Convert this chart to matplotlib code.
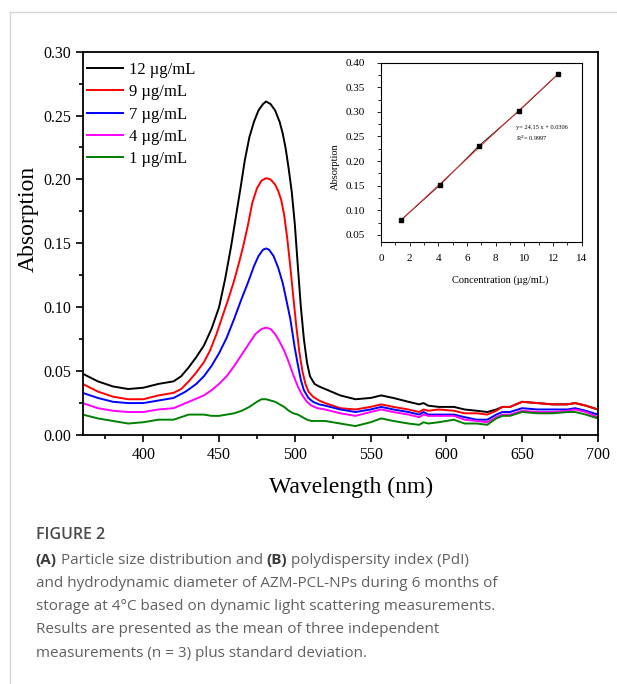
import numpy as np
import matplotlib

matplotlib.use("Agg")
import matplotlib.pyplot as plt
from matplotlib.lines import Line2D
from matplotlib.ticker import MultipleLocator

# flat part of the spectra beyond the absorption band (shared grid)
WL_TAIL = [520, 530, 540, 550, 557, 565, 575, 582, 585, 588, 595, 605, 612,
           620, 627, 633, 637, 642, 650, 660, 670, 680, 685, 692, 700]

WL_12 = [360, 370, 380, 390, 400, 410, 420, 425, 430, 435, 440, 445, 450, 454,
         458, 461, 464, 467, 470, 473, 476, 479, 481, 484, 487, 490, 492, 494,
         496, 498, 500, 502, 504, 506, 508, 510, 513, 516] + WL_TAIL
ABS_12 = [.048, .042, .038, .036, .037, .040, .042, .046, .053, .061, .070, .083,
          .100, .122, .148, .170, .192, .215, .233, .245, .254, .259, .261, .259,
          .254, .245, .236, .224, .208, .190, .165, .132, .100, .075, .057, .046,
          .040, .038,
          .036, .031, .028, .029, .031, .029, .026, .024, .025, .023, .022, .022,
          .020, .019, .018, .020, .022, .022, .026, .025, .024, .024, .025, .023,
          .020]

WL_9 = [360, 370, 380, 390, 400, 410, 420, 425, 430, 435, 440, 444, 448, 452,
        456, 460, 463, 466, 469, 472, 475, 478, 481, 484, 487, 489, 491, 493,
        495, 497, 499, 501, 503, 505, 507, 509, 512, 516] + WL_TAIL
ABS_9 = [.040, .034, .030, .028, .028, .031, .033, .036, .042, .049, .057, .066,
         .078, .092, .106, .121, .134, .148, .164, .182, .193, .199, .201, .200,
         .196, .191, .184, .172, .154, .132, .108, .085, .065, .050, .040, .034,
         .030, .027,
         .025, .021, .020, .022, .024, .022, .020, .018, .020, .019, .020, .019,
         .017, .017, .016, .019, .022, .022, .026, .025, .024, .024, .025, .023,
         .020]

WL_7 = [360, 370, 380, 390, 400, 410, 420, 428, 435, 440, 445, 450, 455, 460,
        465, 469, 473, 476, 479, 481, 483, 486, 489, 492, 494, 497, 500, 502,
        504, 506, 509, 512, 516] + WL_TAIL
ABS_7 = [.033, .029, .026, .025, .025, .027, .029, .034, .040, .046, .054, .064,
         .076, .091, .107, .119, .132, .140, .145, .146, .145, .140, .131, .119,
         .108, .091, .068, .055, .043, .035, .029, .026, .024,
         .023, .020, .018, .020, .022, .020, .018, .016, .018, .016, .016, .016,
         .014, .012, .012, .016, .018, .018, .021, .020, .020, .020, .021, .019,
         .016]

WL_4 = [360, 370, 380, 390, 400, 410, 420, 430, 440, 445, 450, 455, 460, 465,
        470, 474, 478, 481, 484, 487, 490, 493, 496, 499, 502, 505, 508, 511,
        515] + WL_TAIL
ABS_4 = [.025, .021, .019, .018, .018, .020, .021, .026, .031, .035, .040, .046,
         .054, .063, .072, .079, .083, .084, .083, .079, .073, .066, .057, .047,
         .038, .031, .026, .023, .021,
         .020, .017, .015, .018, .020, .018, .016, .014, .016, .015, .015, .015,
         .012, .011, .010, .014, .016, .016, .019, .018, .018, .019, .020, .018,
         .014]

WL_1 = [360, 370, 380, 390, 400, 410, 420, 430, 440, 445, 450, 455, 460, 465,
        470, 475, 478, 481, 484, 487, 490, 493, 496, 499, 502, 505, 508, 511,
        515] + WL_TAIL
ABS_1 = [.016, .013, .011, .009, .010, .012, .012, .016, .016, .015, .015, .016,
         .017, .019, .022, .026, .028, .028, .027, .026, .024, .022, .019, .017,
         .016, .014, .012, .011, .011,
         .011, .009, .007, .010, .013, .011, .009, .008, .010, .009, .010, .012,
         .009, .009, .008, .013, .015, .015, .018, .017, .017, .018, .018, .016,
         .013]

SERIES = [
    ("12 µg/mL", WL_12, ABS_12, "black"),
    ("9 µg/mL", WL_9, ABS_9, "#ff0000"),
    ("7 µg/mL", WL_7, ABS_7, "#0000ff"),
    ("4 µg/mL", WL_4, ABS_4, "#ff00ff"),
    ("1 µg/mL", WL_1, ABS_1, "#008000"),
]

# calibration curve (inset)
CONC = [1.41, 4.12, 6.83, 9.62, 12.35]
CAL_ABS = [0.0805, 0.1515, 0.231, 0.302, 0.377]
FIT_TEXT = "y= 24.15 x + 0.0306\nR$^2$= 0.9997"

CAPTION = [
    [("(A)", True), (" Particle size distribution and ", False), ("(B)", True),
     (" polydispersity index (PdI)", False)],
    [("and hydrodynamic diameter of AZM-PCL-NPs during 6 months of", False)],
    [("storage at 4°C based on dynamic light scattering measurements.", False)],
    [("Results are presented as the mean of three independent", False)],
    [("measurements (n = 3) plus standard deviation.", False)],
]

SERIF = ["Liberation Serif", "DejaVu Serif"]
SANS = ["Open Sans", "DejaVu Sans"]

fig = plt.figure(figsize=(6.17, 6.84), dpi=100)

# card border (top and left edges only)
fig.add_artist(Line2D([10 / 617, 1], [1 - 12 / 684] * 2, color="#d4d4d4", lw=1))
fig.add_artist(Line2D([10 / 617] * 2, [0, 1 - 12 / 684], color="#d4d4d4", lw=1))

ax = fig.add_axes([0.134, 0.364, 0.835, 0.5605])
for label, xs, ys, color in SERIES:
    ax.plot(xs, ys, color=color, lw=1.4, label=label)
ax.set_xlim(360, 700)
ax.set_ylim(0, 0.30)
ax.xaxis.set_major_locator(MultipleLocator(50))
ax.xaxis.set_minor_locator(MultipleLocator(25))
ax.yaxis.set_major_locator(MultipleLocator(0.05))
ax.yaxis.set_minor_locator(MultipleLocator(0.025))
ax.yaxis.set_major_formatter(lambda v, _: f"{v:.2f}")
ax.tick_params(which="both", direction="out", top=False, right=False)
ax.tick_params(which="major", length=5, width=1.2, labelsize=11.5)
ax.tick_params(which="minor", length=3, width=1.2)
for lab in ax.get_xticklabels() + ax.get_yticklabels():
    lab.set_family(SERIF)
for sp in ax.spines.values():
    sp.set_linewidth(1.3)
ax.set_xlabel("Wavelength (nm)", family=SERIF, fontsize=17, va="center")
ax.xaxis.set_label_coords(0.52, -0.136)
ax.set_ylabel("Absorption", family=SERIF, fontsize=17, va="center")
ax.yaxis.set_label_coords(-0.106, 0.5635)
ax.legend(loc="upper left", bbox_to_anchor=(0.008, 0.973), frameon=False,
          prop={"family": SERIF, "size": 12}, handlelength=2.2,
          handletextpad=0.35, labelspacing=0.38, borderaxespad=0, borderpad=0)

# calibration inset
ins = fig.add_axes([0.6175, 0.6466, 0.3255, 0.2617])
fit = np.polyfit(CONC, CAL_ABS, 1)
ins.plot(CONC, CAL_ABS, color="black", lw=0.6)
ins.plot([CONC[0], CONC[-1]], np.polyval(fit, [CONC[0], CONC[-1]]),
         color="#e03030", lw=0.7)
ins.plot(CONC, CAL_ABS, "s", color="black", ms=3)
ins.set_xlim(0, 14)
ins.set_ylim(0.036, 0.40)
ins.xaxis.set_major_locator(MultipleLocator(2))
ins.xaxis.set_minor_locator(MultipleLocator(1))
ins.yaxis.set_major_locator(MultipleLocator(0.05))
ins.yaxis.set_minor_locator(MultipleLocator(0.025))
ins.yaxis.set_major_formatter(lambda v, _: f"{v:.2f}")
ins.tick_params(which="both", direction="out", top=False, right=False,
                width=0.6, labelsize=8)
ins.tick_params(axis="x", pad=6)
ins.tick_params(axis="y", pad=8.5)
ins.tick_params(which="major", length=3)
ins.tick_params(which="minor", length=2)
for lab in ins.get_xticklabels() + ins.get_yticklabels():
    lab.set_family(SERIF)
for sp in ins.spines.values():
    sp.set_linewidth(0.8)
ins.set_xlabel("Concentration (µg/mL)", family=SERIF, fontsize=7.5, va="center")
ins.xaxis.set_label_coords(0.594, -0.214)
ins.set_ylabel("Absorption", family=SERIF, fontsize=7.5, va="center")
ins.yaxis.set_label_coords(-0.228, 0.42)
ins.text(9.4, 0.255, FIT_TEXT, family=SERIF, fontsize=4.6, va="center",
         linespacing=1.5)

# caption below the chart
fig.text(35.7 / 617, 1 - 535 / 684, "FIGURE 2", family=SANS, fontsize=11.5,
         color="#4a4a4a", weight="semibold", va="center")
renderer = fig.canvas.get_renderer()
y_px = 560
for line in CAPTION:
    x = 35.7 / 617
    for piece, bold in line:
        t = fig.text(x, 1 - y_px / 684, piece, family=SANS, fontsize=11,
                     color="#3a3a3a" if bold else "#606060",
                     weight="bold" if bold else "normal", va="center")
        bb = t.get_window_extent(renderer)
        x += bb.width / fig.bbox.width
    y_px += 23.3

fig.savefig("out.png", dpi=100)
